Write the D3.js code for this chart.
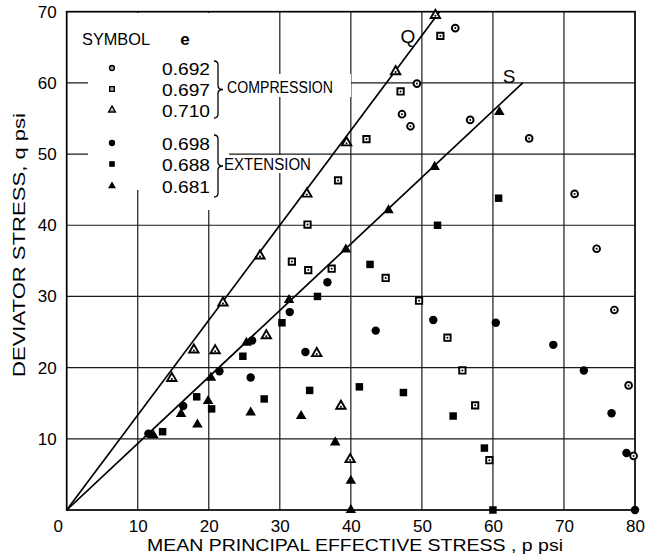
<!DOCTYPE html>
<html>
<head>
<meta charset="utf-8">
<script src="https://cdn.jsdelivr.net/npm/d3@7"></script>
<style>
  html, body { margin: 0; padding: 0; background: #fff; }
  svg { display: block; font-family: "Liberation Sans", Arial, sans-serif; }
</style>
</head>
<body>
<svg id="chart" width="647" height="559"></svg>
<script>
// Axis ticks
const xTicks = [0, 10, 20, 30, 40, 50, 60, 70, 80];
const yTicks = [10, 20, 30, 40, 50, 60, 70];

// Failure envelopes through the origin
const lineQ = [[0, 0], [52.5, 70]];
const lineS = [[0, 0], [64.2, 60]];

// Compression tests: [p, q]
const comp692 = [[54.7, 67.7], [49.3, 59.9], [47.2, 55.6], [48.4, 53.9], [56.8, 54.8], [65.1, 52.2],
  [71.5, 44.4], [74.6, 36.7], [77.1, 28.1], [79.1, 17.5], [79.8, 7.6]];
const comp697 = [[52.6, 66.6], [47.0, 58.8], [42.2, 52.1], [38.2, 46.3], [33.9, 40.1], [31.7, 34.9],
  [34.0, 33.7], [37.3, 33.9], [44.9, 32.6], [49.6, 29.4], [53.6, 24.2], [55.7, 19.6], [57.5, 14.7], [59.5, 7.0]];
const comp710 = [[51.9, 69.5], [46.3, 61.6], [39.4, 51.6], [33.8, 44.4], [27.2, 35.7], [22.0, 29.1],
  [28.1, 24.5], [17.9, 22.5], [20.9, 22.4], [14.8, 18.5], [35.2, 22.0], [38.6, 14.6], [39.9, 7.1]];

// Extension tests: [p, q]
const ext698 = [[11.5, 10.7], [16.4, 14.6], [21.5, 19.5], [25.9, 18.6], [26.1, 23.8], [31.4, 27.8],
  [36.7, 32.0], [33.6, 22.2], [43.5, 25.2], [51.6, 26.7], [60.4, 26.3], [68.5, 23.2], [72.8, 19.6],
  [76.7, 13.6], [78.8, 8.0], [80.0, 0.0]];
const ext688 = [[13.5, 11.0], [18.3, 15.9], [20.4, 14.2], [24.8, 21.6], [27.8, 15.6], [30.3, 26.3],
  [35.3, 30.0], [34.2, 16.8], [42.7, 34.5], [52.2, 40.0], [60.8, 43.8], [41.2, 17.3], [47.4, 16.5],
  [54.4, 13.2], [58.8, 8.7], [60.0, 0.0]];
const ext681 = [[12.2, 10.5], [16.1, 13.5], [18.4, 12.0], [19.9, 15.3], [20.3, 18.6], [25.9, 13.7],
  [25.3, 23.5], [31.3, 29.5], [33.0, 13.2], [39.3, 36.6], [45.3, 42.1], [51.8, 48.2], [60.9, 55.9],
  [37.8, 9.5], [40.0, 4.1], [40.0, 0.0]];

// Legend entries
const legendE = ["0.692", "0.697", "0.710", "0.698", "0.688", "0.681"];

const svg = d3.select("#chart");
const x = d3.scaleLinear().domain([0, 80]).range([66.7, 635]);
const y = d3.scaleLinear().domain([0, 70]).range([510, 11.7]);
const ink = "#000";

// grid
const grid = svg.append("g").attr("stroke", "#1a1a1a").attr("stroke-width", 1.2);
grid.selectAll("line.v").data(xTicks.filter(d => d > 0 && d < 80)).join("line")
  .attr("x1", d => x(d)).attr("x2", d => x(d)).attr("y1", y(0)).attr("y2", y(70));
grid.selectAll("line.h").data(yTicks.filter(d => d < 70)).join("line")
  .attr("x1", x(0)).attr("x2", x(80)).attr("y1", d => y(d)).attr("y2", d => y(d));

// clear the grid behind the legend block
const knock = svg.append("g").attr("fill", "#fff");
knock.append("rect").attr("x", 88).attr("y", 13).attr("width", 138).attr("height", 177);
knock.append("rect").attr("x", 175).attr("y", 13).attr("width", 51).attr("height", 197);
knock.append("rect").attr("x", 226).attr("y", 74).attr("width", 125).attr("height", 23);
knock.append("rect").attr("x", 222).attr("y", 145).attr("width", 7).attr("height", 10);
knock.append("rect").attr("x", 222).attr("y", 155).attr("width", 92).attr("height", 18);

// frame
svg.append("rect").attr("x", x(0)).attr("y", y(70))
  .attr("width", x(80) - x(0)).attr("height", y(0) - y(70))
  .attr("fill", "none").attr("stroke", ink).attr("stroke-width", 1.7);

// envelopes
const lineGen = d3.line().x(d => x(d[0])).y(d => y(d[1]));
[lineQ, lineS].forEach(l => {
  svg.append("path").attr("d", lineGen(l)).attr("fill", "none")
    .attr("stroke", ink).attr("stroke-width", 1.7);
});
svg.append("text").attr("x", 408).attr("y", 43).attr("text-anchor", "middle")
  .attr("font-size", 19).attr("fill", ink).text("Q");
svg.append("text").attr("x", 509).attr("y", 83).attr("text-anchor", "middle")
  .attr("font-size", 19).attr("fill", ink).text("S");

// markers
function drawOpen(g, type, size, cx, cy, scale) {
  g.append("path").attr("transform", `translate(${cx},${cy})`)
    .attr("d", d3.symbol().type(type).size(size * scale * scale)())
    .attr("fill", "#fff").attr("stroke", ink).attr("stroke-width", 1.9 * Math.max(scale, 0.8));
  g.append("circle").attr("cx", cx).attr("cy", type === d3.symbolTriangle ? cy + 0.6 : cy)
    .attr("r", 1.0 * scale).attr("fill", ink);
}
function drawFilled(g, type, size, cx, cy, scale) {
  g.append("path").attr("transform", `translate(${cx},${cy})`)
    .attr("d", d3.symbol().type(type).size(size * scale * scale)())
    .attr("fill", ink);
}

const series = [
  { data: comp692, type: d3.symbolCircle, size: 36, open: true },
  { data: comp697, type: d3.symbolSquare, size: 40, open: true },
  { data: comp710, type: d3.symbolTriangle, size: 38, open: true },
  { data: ext698, type: d3.symbolCircle, size: 56, open: false },
  { data: ext688, type: d3.symbolSquare, size: 56, open: false },
  { data: ext681, type: d3.symbolTriangle, size: 48, open: false }
];

const marks = svg.append("g");
series.forEach(s => {
  s.data.forEach(d => {
    const cx = x(d[0]), cy = y(d[1]);
    if (s.open) drawOpen(marks, s.type, s.size, cx, cy, 1);
    else drawFilled(marks, s.type, s.size, cx, cy, 1);
  });
});

// axes labels
const xAxis = svg.append("g").attr("transform", `translate(0,${y(0)})`)
  .call(d3.axisBottom(x).tickValues(xTicks).tickSize(0).tickPadding(10).tickFormat(d3.format("d")));
xAxis.select(".domain").remove();
xAxis.selectAll("text").attr("font-size", 17).attr("fill", ink)
  .attr("font-family", "Liberation Sans, Arial, sans-serif")
  .attr("dx", d => d === 0 ? -9 : 0);

const yAxis = svg.append("g").attr("transform", `translate(${x(0)},0)`)
  .call(d3.axisLeft(y).tickValues(yTicks).tickSize(0).tickPadding(10).tickFormat(d3.format("d")));
yAxis.select(".domain").remove();
yAxis.selectAll("text").attr("font-size", 17).attr("fill", ink)
  .attr("font-family", "Liberation Sans, Arial, sans-serif");

// axis titles
svg.append("text").attr("x", 147).attr("y", 551)
  .attr("font-size", 17).attr("fill", ink)
  .attr("textLength", 416).attr("lengthAdjust", "spacingAndGlyphs")
  .text("MEAN PRINCIPAL EFFECTIVE STRESS , p psi");
svg.append("text").attr("transform", "translate(25,377) rotate(-90)")
  .attr("font-size", 17).attr("fill", ink)
  .attr("textLength", 264).attr("lengthAdjust", "spacingAndGlyphs")
  .text("DEVIATOR STRESS, q psi");

// legend
const lg = svg.append("g");
lg.append("text").attr("x", 82).attr("y", 45).attr("font-size", 16).attr("fill", ink)
  .attr("textLength", 68).attr("lengthAdjust", "spacingAndGlyphs").text("SYMBOL");
lg.append("text").attr("x", 185).attr("y", 45).attr("font-size", 17).attr("font-weight", "bold")
  .attr("text-anchor", "middle").attr("fill", ink).text("e");

const rowY = [68, 89, 110, 143, 164, 186];
series.forEach((s, i) => {
  if (s.open) drawOpen(lg, s.type, s.size, 112, rowY[i], 0.7);
  else drawFilled(lg, s.type, s.size, 112, rowY[i], 0.75);
  lg.append("text").attr("x", 162).attr("y", rowY[i] + 6.5).attr("font-size", 17)
    .attr("fill", ink).attr("textLength", 48).attr("lengthAdjust", "spacingAndGlyphs")
    .text(legendE[i]);
});

// braces
function brace(top, bottom, xLeft, tipX) {
  const mid = (top + bottom) / 2;
  const p = d3.path();
  p.moveTo(xLeft, top);
  p.quadraticCurveTo(xLeft + 4, top, xLeft + 4, top + 4);
  p.lineTo(xLeft + 4, mid - 4);
  p.quadraticCurveTo(xLeft + 4, mid, tipX, mid);
  p.quadraticCurveTo(xLeft + 4, mid, xLeft + 4, mid + 4);
  p.lineTo(xLeft + 4, bottom - 4);
  p.quadraticCurveTo(xLeft + 4, bottom, xLeft, bottom);
  lg.append("path").attr("d", p.toString()).attr("fill", "none")
    .attr("stroke", ink).attr("stroke-width", 1.3);
}
brace(61, 118, 214, 223);
brace(135, 197, 214, 223);

lg.append("text").attr("x", 227).attr("y", 93).attr("font-size", 16).attr("fill", ink)
  .attr("textLength", 106).attr("lengthAdjust", "spacingAndGlyphs").text("COMPRESSION");
lg.append("text").attr("x", 224).attr("y", 170).attr("font-size", 16).attr("fill", ink)
  .attr("textLength", 87).attr("lengthAdjust", "spacingAndGlyphs").text("EXTENSION");
</script>
</body>
</html>
